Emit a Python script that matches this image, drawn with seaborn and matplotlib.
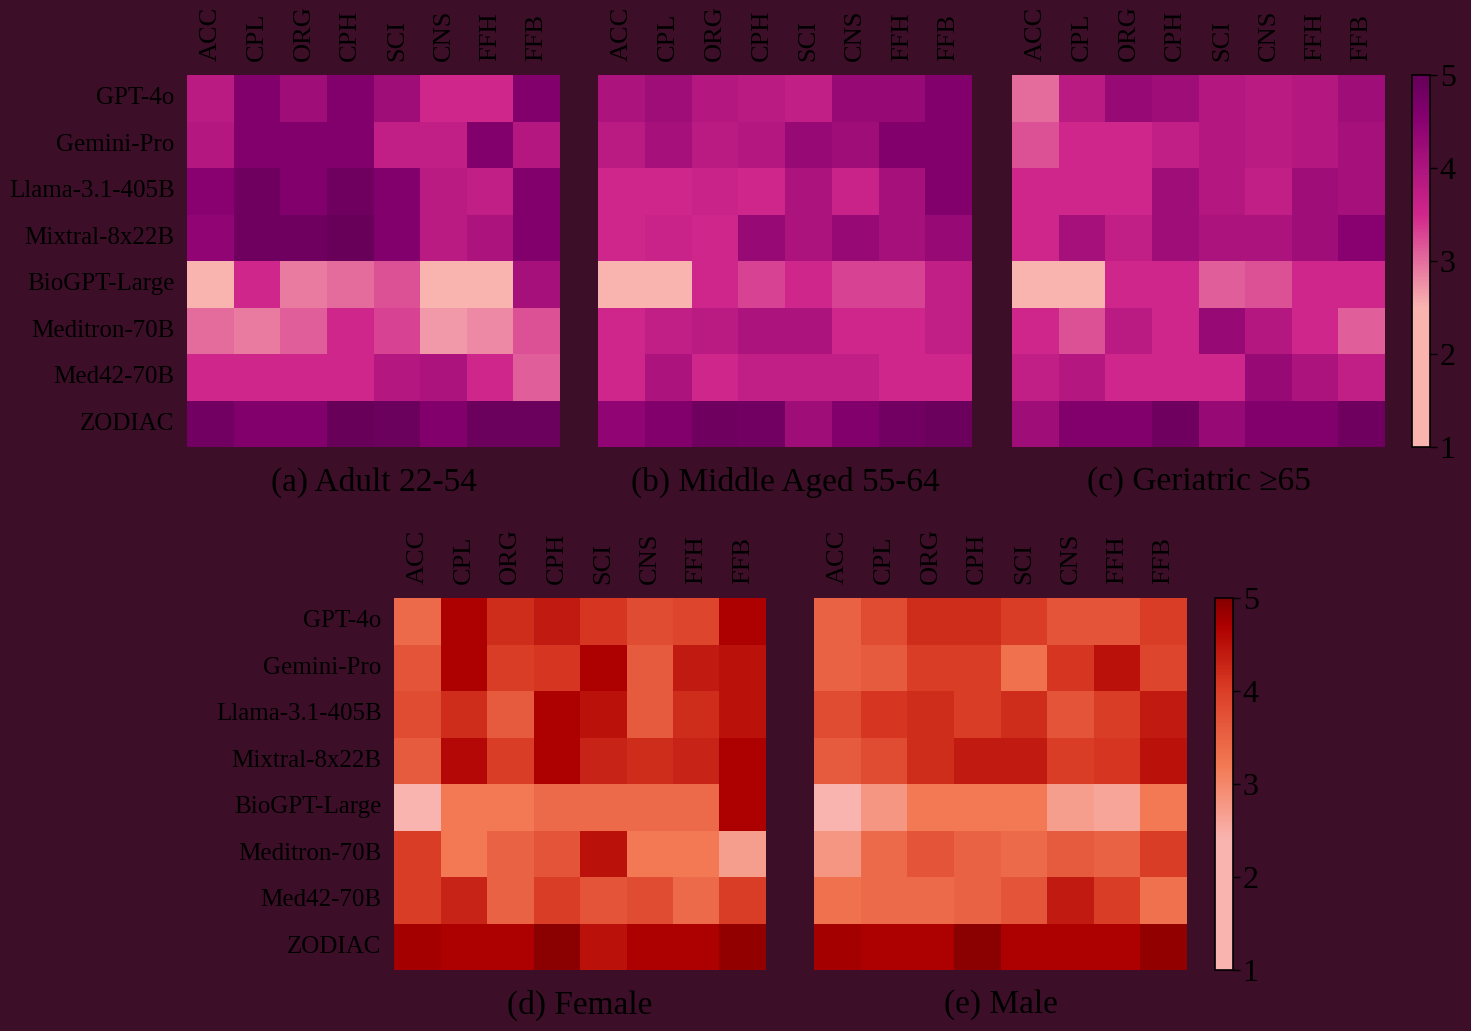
import matplotlib
matplotlib.use("Agg")
import matplotlib.pyplot as plt
import seaborn as sns
import numpy as np
import pandas as pd
from matplotlib.colors import LinearSegmentedColormap, Normalize
from matplotlib.cm import ScalarMappable

# data
models = ["GPT-4o", "Gemini-Pro", "Llama-3.1-405B", "Mixtral-8x22B",
          "BioGPT-Large", "Meditron-70B", "Med42-70B", "ZODIAC"]
metrics = ["ACC", "CPL", "ORG", "CPH", "SCI", "CNS", "FFH", "FFB"]

adult = [
    [3.8, 4.6, 4.2, 4.6, 4.2, 3.5, 3.5, 4.6],
    [3.9, 4.6, 4.6, 4.6, 3.7, 3.7, 4.6, 3.9],
    [4.5, 4.85, 4.6, 4.85, 4.6, 3.8, 3.7, 4.6],
    [4.4, 4.85, 4.85, 4.95, 4.6, 3.8, 4.0, 4.6],
    [2.0, 3.5, 2.9, 3.0, 3.2, 2.0, 2.0, 4.1],
    [3.0, 2.9, 3.1, 3.5, 3.3, 2.7, 2.8, 3.2],
    [3.5, 3.5, 3.5, 3.5, 3.9, 4.0, 3.5, 3.1],
    [4.8, 4.6, 4.6, 4.95, 4.9, 4.6, 4.9, 4.9],
]
middle = [
    [4.0, 4.2, 3.9, 3.8, 3.7, 4.3, 4.3, 4.6],
    [3.8, 4.1, 3.8, 3.9, 4.3, 4.2, 4.6, 4.6],
    [3.5, 3.5, 3.6, 3.5, 4.0, 3.6, 4.1, 4.6],
    [3.5, 3.6, 3.5, 4.3, 4.0, 4.3, 4.1, 4.3],
    [2.0, 2.0, 3.5, 3.3, 3.5, 3.3, 3.3, 3.7],
    [3.5, 3.7, 3.8, 4.0, 4.0, 3.5, 3.5, 3.7],
    [3.5, 4.0, 3.5, 3.7, 3.7, 3.7, 3.5, 3.5],
    [4.4, 4.6, 4.85, 4.8, 4.2, 4.6, 4.8, 4.9],
]
geriatric = [
    [3.0, 3.8, 4.3, 4.2, 3.9, 3.8, 3.9, 4.2],
    [3.2, 3.5, 3.5, 3.7, 3.9, 3.8, 3.9, 4.1],
    [3.5, 3.5, 3.5, 4.2, 3.9, 3.7, 4.2, 4.1],
    [3.5, 4.1, 3.7, 4.2, 4.0, 4.0, 4.2, 4.5],
    [2.0, 2.0, 3.5, 3.5, 3.1, 3.2, 3.5, 3.5],
    [3.5, 3.2, 3.8, 3.5, 4.3, 3.9, 3.5, 3.1],
    [3.7, 3.9, 3.5, 3.5, 3.5, 4.3, 4.0, 3.7],
    [4.2, 4.6, 4.6, 4.85, 4.3, 4.6, 4.6, 4.85],
]
female = [
    [3.4, 4.7, 4.2, 4.4, 4.1, 3.8, 3.9, 4.7],
    [3.7, 4.7, 4.0, 4.1, 4.7, 3.6, 4.4, 4.5],
    [3.8, 4.2, 3.6, 4.7, 4.5, 3.6, 4.2, 4.5],
    [3.6, 4.6, 4.0, 4.7, 4.3, 4.2, 4.3, 4.7],
    [2.0, 3.2, 3.2, 3.4, 3.4, 3.4, 3.4, 4.7],
    [4.0, 3.2, 3.5, 3.7, 4.5, 3.2, 3.2, 2.7],
    [4.0, 4.3, 3.5, 4.0, 3.7, 3.8, 3.4, 4.0],
    [4.75, 4.7, 4.7, 4.95, 4.5, 4.7, 4.7, 4.9],
]
male = [
    [3.5, 3.8, 4.2, 4.2, 4.0, 3.7, 3.7, 4.0],
    [3.5, 3.6, 4.0, 4.0, 3.3, 4.1, 4.5, 3.9],
    [3.8, 4.1, 4.2, 4.0, 4.2, 3.7, 4.0, 4.4],
    [3.6, 3.8, 4.2, 4.4, 4.4, 4.0, 4.1, 4.5],
    [2.0, 2.8, 3.2, 3.2, 3.2, 2.7, 2.6, 3.2],
    [2.8, 3.4, 3.7, 3.5, 3.4, 3.6, 3.5, 4.0],
    [3.3, 3.4, 3.4, 3.5, 3.7, 4.4, 4.0, 3.3],
    [4.75, 4.7, 4.7, 4.95, 4.7, 4.7, 4.7, 4.9],
]

titles_top = ["(a) Adult 22-54", "(b) Middle Aged 55-64", "(c) Geriatric \u226565"]
titles_bottom = ["(d) Female", "(e) Male"]

bg = "#3c0e28"

# colour maps close to the quantised look of the original
purple_cmap = LinearSegmentedColormap.from_list(
    "rdpu_q", [(0.0, "#f9b4b0"), (0.375, "#f9b4b0"), (0.625, "#d0268b"),
               (0.8875, "#86006f"), (1.0, "#640058")])
red_cmap = LinearSegmentedColormap.from_list(
    "reds_q", [(0.0, "#f9b4b0"), (0.35, "#f9b4b0"), (0.55, "#f27954"),
               (0.7625, "#d93a24"), (0.925, "#ad0000"), (1.0, "#850000")])

sns.set_theme(style="white")
plt.rcParams["font.family"] = ["Liberation Serif", "DejaVu Serif"]
plt.rcParams["text.color"] = "black"
plt.rcParams["xtick.color"] = "black"
plt.rcParams["ytick.color"] = "black"

W, H = 1471, 1031
fig = plt.figure(figsize=(W / 100, H / 100), dpi=100, facecolor=bg)


def px_axes(x0, y0, x1, y1):
    return fig.add_axes([x0 / W, 1 - y1 / H, (x1 - x0) / W, (y1 - y0) / H])


def draw(ax, values, cmap, title, show_y):
    df = pd.DataFrame(values, index=models, columns=metrics)
    sns.heatmap(df, ax=ax, cmap=cmap, vmin=1, vmax=5, cbar=False,
                square=False, linewidths=0)
    ax.set_facecolor(bg)
    ax.xaxis.tick_top()
    ax.set_xticklabels(metrics, rotation=90, fontsize=19, color="black")
    ax.tick_params(axis="x", length=0, pad=10)
    ax.tick_params(axis="y", length=0, pad=9)
    if show_y:
        ax.set_yticklabels(models, rotation=0, fontsize=18, color="black")
    else:
        ax.set_yticklabels([])
    ax.set_xlabel(title, fontsize=24, color="black", labelpad=14)
    ax.xaxis.set_label_position("bottom")
    ax.set_ylabel("")


def colorbar(cax, cmap):
    sm = ScalarMappable(norm=Normalize(1, 5), cmap=cmap)
    cb = fig.colorbar(sm, cax=cax, ticks=[1, 2, 3, 4, 5])
    cb.outline.set_edgecolor("black")
    cb.outline.set_linewidth(1.2)
    cax.tick_params(labelsize=23, colors="black", length=5, width=1,
                    direction="out", pad=2)


top_x = [(187, 560), (598, 972), (1012, 1385)]
for (x0, x1), vals, t, i in zip(top_x, [adult, middle, geriatric], titles_top, range(3)):
    ax = px_axes(x0, 75, x1, 447)
    draw(ax, vals, purple_cmap, t, i == 0)

bot_x = [(394, 766), (814, 1187)]
for (x0, x1), vals, t, i in zip(bot_x, [female, male], titles_bottom, range(2)):
    ax = px_axes(x0, 598, x1, 970)
    draw(ax, vals, red_cmap, t, i == 0)

colorbar(px_axes(1412, 75, 1430, 447), purple_cmap)
colorbar(px_axes(1215, 598, 1233, 970), red_cmap)

fig.savefig("out.png", dpi=100, facecolor=bg)
